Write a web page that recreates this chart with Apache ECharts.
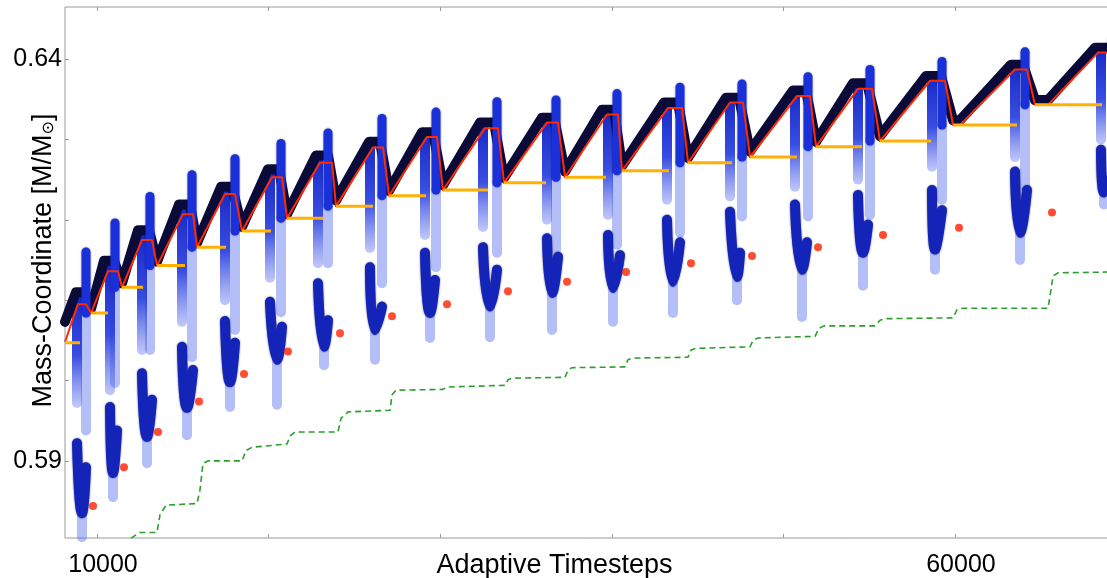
<!DOCTYPE html>
<html><head><meta charset="utf-8">
<script src="https://cdn.jsdelivr.net/npm/echarts@6/dist/echarts.min.js"></script>
<style>html,body{margin:0;padding:0;background:#fff}#c{width:1107px;height:578px}</style>
</head><body><div id="c"></div>
<script>
// ---- axis ticks / labels ----
const xTicks = [10000, 20000, 30000, 40000, 50000, 60000];
const xLabels = [10000, 60000];
const yTicks = [0.59, 0.60, 0.61, 0.62, 0.63, 0.64];
const yLabels = [0.59, 0.64];

// ---- red core-mass line ----
const redX = [8135, 8893, 9359, 9650, 10641, 11224, 11457, 12623, 13205, 13497, 15012, 15595, 15828, 17460, 18043, 18451, 20199, 20782, 21073, 22996, 23696, 23929, 26085, 26668, 27018, 29232, 29815, 30165, 32613, 33370, 33720, 36226, 36867, 37275, 39723, 40364, 40597, 43278, 44094, 44443, 46891, 47649, 48057, 50796, 51554, 51903, 54351, 55167, 55633, 58547, 59421, 59888, 60296, 63501, 64200, 64667, 65424, 68338, 68921];
const redY = [0.6048, 0.6095, 0.6095, 0.6084, 0.6136, 0.6136, 0.6116, 0.6175, 0.6175, 0.6143, 0.6207, 0.6207, 0.6166, 0.6232, 0.6232, 0.6186, 0.6253, 0.6253, 0.6202, 0.6271, 0.6271, 0.6217, 0.6290, 0.6290, 0.6230, 0.6303, 0.6303, 0.6237, 0.6314, 0.6314, 0.6246, 0.6321, 0.6321, 0.6253, 0.6331, 0.6331, 0.6261, 0.6339, 0.6339, 0.6271, 0.6346, 0.6346, 0.6278, 0.6354, 0.6354, 0.6291, 0.6363, 0.6363, 0.6298, 0.6373, 0.6373, 0.6318, 0.6318, 0.6387, 0.6387, 0.6343, 0.6343, 0.6408, 0.6408];

// ---- navy thick envelope ----
const navyX = [8135, 8776, 9301, 9650, 10408, 10991, 11457, 12389, 13031, 13497, 14779, 15420, 15828, 17227, 17868, 18451, 19966, 20607, 21073, 22763, 23463, 23929, 25852, 26493, 27018, 28941, 29582, 30165, 32321, 33137, 33720, 35935, 36634, 37275, 39431, 40131, 40597, 43045, 43861, 44443, 46658, 47416, 48057, 50563, 51321, 51903, 54060, 54876, 55633, 58314, 59188, 59888, 60296, 63268, 63967, 64667, 65424, 68163, 68921];
const navyY = [0.6073, 0.6110, 0.6110, 0.6089, 0.6149, 0.6149, 0.6121, 0.6187, 0.6187, 0.6148, 0.6219, 0.6219, 0.6171, 0.6241, 0.6241, 0.6191, 0.6263, 0.6263, 0.6207, 0.6280, 0.6280, 0.6224, 0.6297, 0.6297, 0.6236, 0.6309, 0.6309, 0.6243, 0.6321, 0.6321, 0.6252, 0.6327, 0.6327, 0.6260, 0.6337, 0.6337, 0.6267, 0.6346, 0.6346, 0.6277, 0.6352, 0.6352, 0.6285, 0.6361, 0.6361, 0.6297, 0.6370, 0.6370, 0.6304, 0.6379, 0.6379, 0.6324, 0.6324, 0.6393, 0.6393, 0.6349, 0.6349, 0.6414, 0.6414];

// ---- orange inter-pulse levels ----
const orangeStartX = [8135, 9650, 11457, 13497, 15828, 18451, 21073, 23929, 27018, 30165, 33720, 37275, 40597, 44443, 48057, 51903, 55633, 59888, 64667];
const orangeEndX = [9009, 10641, 12681, 15129, 17518, 20141, 23171, 26085, 29174, 32787, 36168, 39665, 43336, 47008, 50796, 54584, 58606, 63618, 68571];
const orangeY = [0.6047, 0.6084, 0.6116, 0.6143, 0.6166, 0.6186, 0.6202, 0.6217, 0.6230, 0.6237, 0.6246, 0.6253, 0.6261, 0.6271, 0.6278, 0.6291, 0.6298, 0.6318, 0.6343];

// ---- red dots ----
const dotX = [9767, 11574, 13555, 15945, 18567, 21131, 24162, 27193, 30398, 33953, 37392, 40830, 44618, 48173, 52020, 55808, 60237, 65657];
const dotY = [0.5844, 0.5892, 0.5936, 0.5974, 0.6008, 0.6036, 0.6059, 0.6080, 0.6095, 0.6111, 0.6123, 0.6135, 0.6146, 0.6155, 0.6166, 0.6181, 0.6190, 0.6209];

// ---- green dashed step ----
const greenX = [11982, 12506, 13497, 13672, 14021, 15828, 16003, 16178, 16469, 18451, 18684, 19033, 21073, 21248, 21539, 24045, 24220, 24628, 27076, 27193, 27426, 30165, 30398, 33778, 33953, 34186, 37275, 37450, 37683, 40772, 40947, 41238, 44443, 44618, 44910, 48057, 48232, 48523, 51845, 52078, 52370, 55342, 55633, 55983, 59888, 60121, 60470, 65424, 65599, 65716, 66007, 68921];
const greenY = [0.5804, 0.5811, 0.5811, 0.5833, 0.5845, 0.5847, 0.5864, 0.5897, 0.5900, 0.5900, 0.5913, 0.5917, 0.5921, 0.5931, 0.5936, 0.5936, 0.5953, 0.5961, 0.5963, 0.5982, 0.5988, 0.5989, 0.5992, 0.5994, 0.6001, 0.6003, 0.6004, 0.6013, 0.6016, 0.6017, 0.6026, 0.6028, 0.6029, 0.6038, 0.6040, 0.6042, 0.6050, 0.6053, 0.6055, 0.6065, 0.6068, 0.6068, 0.6075, 0.6077, 0.6078, 0.6088, 0.6090, 0.6090, 0.6113, 0.6130, 0.6134, 0.6135];

// ---- blue pulse streaks (one entry per pulse) ----
const pulseLeftX = [8834, 10758, 12623, 14954, 17460, 20082, 22880, 25910, 29116, 32496, 36226, 39781, 43220, 46891, 50679, 54351, 58664, 63501, 68513];
const pulseTopY = [0.6106, 0.6144, 0.6181, 0.6215, 0.6237, 0.6260, 0.6277, 0.6295, 0.6307, 0.6318, 0.6324, 0.6334, 0.6343, 0.6349, 0.6358, 0.6367, 0.6377, 0.6390, 0.6412];
const pulseGapY = [0.5972, 0.5988, 0.6038, 0.6073, 0.6100, 0.6128, 0.6146, 0.6165, 0.6181, 0.6191, 0.6200, 0.6206, 0.6225, 0.6229, 0.6241, 0.6250, 0.6266, 0.6278, 0.6300];
const hookTopY = [0.5922, 0.5967, 0.6009, 0.6042, 0.6074, 0.6098, 0.6121, 0.6141, 0.6159, 0.6166, 0.6177, 0.6181, 0.6200, 0.6210, 0.6219, 0.6231, 0.6237, 0.6260, 0.6287];
const hookX = [9126, 10932, 12914, 15245, 17751, 20490, 23230, 26202, 29407, 32904, 36517, 40072, 43569, 47299, 51087, 54642, 58839, 63792, 68688];
const hookBottomY = [0.5835, 0.5885, 0.5930, 0.5966, 0.5998, 0.6026, 0.6042, 0.6063, 0.6084, 0.6092, 0.6109, 0.6115, 0.6123, 0.6129, 0.6138, 0.6159, 0.6163, 0.6184, 0.6234];
const hookRightX = [9359, 11166, 13205, 15595, 18043, 20782, 23463, 26610, 29699, 33312, 36867, 40480, 43977, 47474, 51379, 54934, 59247, 64200, 69038];
const hookRightY = [0.5892, 0.5938, 0.5976, 0.6013, 0.6047, 0.6067, 0.6075, 0.6092, 0.6125, 0.6138, 0.6154, 0.6156, 0.6172, 0.6159, 0.6172, 0.6194, 0.6212, 0.6237, 0.6250];
const tailBottomY = [0.5805, 0.5855, 0.5897, 0.5932, 0.5967, 0.5970, 0.6019, 0.6026, 0.6053, 0.6054, 0.6063, 0.6073, 0.6084, 0.6100, 0.6079, 0.6118, 0.6138, 0.6150, 0.6219];
const spikeX = [9359, 11049, 13089, 15537, 18043, 20724, 23463, 26610, 29757, 33312, 36751, 40306, 43977, 47591, 51437, 55050, 59247, 64084, 69154];
const spikeTopY = [0.6160, 0.6196, 0.6229, 0.6256, 0.6276, 0.6295, 0.6308, 0.6326, 0.6334, 0.6347, 0.6349, 0.6357, 0.6365, 0.6369, 0.6378, 0.6387, 0.6397, 0.6409, 0.6424];
const dipY = [0.6084, 0.6116, 0.6143, 0.6166, 0.6186, 0.6202, 0.6217, 0.6230, 0.6237, 0.6246, 0.6253, 0.6261, 0.6271, 0.6278, 0.6291, 0.6298, 0.6318, 0.6343, 0.6399];
const lightBottomY = [0.5938, 0.5997, 0.6038, 0.6029, 0.6063, 0.6085, 0.6146, 0.6121, 0.6141, 0.6159, 0.6163, 0.6169, 0.6184, 0.6204, 0.6204, 0.6206, 0.6225, 0.6241, 0.6399];

const FONT = 'Liberation Sans, Arial, Helvetica, sans-serif';
const zip = (xs, ys) => xs.map((x, i) => [x, ys[i]]);
const seg = (data, style, z, smooth) => ({
  type: 'line', data, symbol: 'none', silent: true, z, smooth: smooth || false,
  lineStyle: Object.assign({ cap: 'round', join: 'round' }, style)
});

const series = [];
const LIGHT = 'rgba(70,95,235,0.4)';
for (let i = 0; i < pulseLeftX.length; i++) {
  series.push(seg([[spikeX[i], dipY[i]], [spikeX[i], lightBottomY[i]]], { width: 10, color: LIGHT }, 2));
  series.push(seg([[hookX[i], hookBottomY[i]], [hookX[i], tailBottomY[i]]], { width: 10, color: LIGHT }, 2));
  series.push(seg([[pulseLeftX[i], pulseTopY[i]], [pulseLeftX[i], pulseGapY[i]]], {
    width: 10,
    color: new echarts.graphic.LinearGradient(0, 0, 0, 1, [
      { offset: 0, color: '#1526c4' }, { offset: 0.55, color: 'rgba(35,58,222,0.9)' }, { offset: 1, color: 'rgba(80,100,235,0.35)' }
    ])
  }, 3));
  series.push(seg([[pulseLeftX[i], hookTopY[i]], [hookX[i], hookBottomY[i]], [hookRightX[i], hookRightY[i]]],
    { width: 10, color: '#1424b8', shadowColor: 'rgba(0,0,60,0.6)', shadowBlur: 2 }, 4, 0.6));
  series.push(seg([[spikeX[i], spikeTopY[i]], [spikeX[i], dipY[i]]], { width: 9, color: '#1a30d8', shadowColor: 'rgba(0,0,60,0.5)', shadowBlur: 2 }, 6));
}
series.push(seg(zip(navyX, navyY), { width: 10, color: '#0b0b3a' }, 5));
series.push(seg(zip(redX, redY), { width: 2, color: '#ff2a00', cap: 'butt' }, 8));
for (let i = 0; i < orangeStartX.length; i++) {
  series.push(seg([[orangeStartX[i], orangeY[i]], [orangeEndX[i], orangeY[i]]], { width: 3, color: '#ffb000', cap: 'butt' }, 9));
}
series.push(seg(zip(greenX, greenY), { width: 1.6, color: '#2aa02a', type: [6, 4], cap: 'butt' }, 9));
series.push({ type: 'scatter', data: zip(dotX, dotY), symbol: 'circle', symbolSize: 8, itemStyle: { color: '#ff2000' }, z: 10, silent: true });

const tickStyle = { color: '#9a9a9a', width: 1 };
const xBase = { type: 'value', min: 8135, max: 68921, splitLine: { show: false }, axisLine: { show: false } };
const yBase = { type: 'value', min: 0.58041, max: 0.646476, splitLine: { show: false }, axisLine: { show: false } };

const chart = echarts.init(document.getElementById('c'), null, { renderer: 'canvas' });
chart.setOption({
  animation: false,
  backgroundColor: '#fff',
  grid: { left: 65, top: 7, right: -1, bottom: 40, show: true, borderColor: '#9a9a9a', borderWidth: 1, containLabel: false, outerBoundsMode: 'none' },
  xAxis: [
    Object.assign({}, xBase, {
      position: 'bottom',
      axisTick: { show: true, inside: true, length: 4, customValues: xTicks, lineStyle: tickStyle },
      axisLabel: { customValues: xLabels, fontSize: 25, color: '#000', margin: 15, fontFamily: FONT, formatter: v => String(v), padding: [0, 0, 0, 12] },
      name: 'Adaptive Timesteps', nameLocation: 'middle', nameGap: 14, nameMoveOverlap: false,
      nameTextStyle: { fontSize: 27, color: '#000', fontFamily: FONT, padding: [0, 64, 0, 0], verticalAlign: 'top' }
    }),
    Object.assign({}, xBase, {
      position: 'top',
      axisTick: { show: true, inside: true, length: 4, customValues: xTicks, lineStyle: tickStyle },
      axisLabel: { show: false }
    })
  ],
  yAxis: [
    Object.assign({}, yBase, {
      position: 'left',
      axisTick: { show: true, inside: true, length: 4, customValues: yTicks, lineStyle: tickStyle },
      axisLabel: { customValues: yLabels, fontSize: 25, color: '#000', margin: 3, fontFamily: FONT, formatter: v => v.toFixed(2) },
      name: 'Mass-Coordinate [M/M{sub|⊙}]', nameLocation: 'middle', nameGap: 8, nameRotate: 90, nameMoveOverlap: false,
      nameTextStyle: {
        fontSize: 27, color: '#000', fontFamily: FONT, padding: [0, 0, 0, 24], verticalAlign: 'bottom',
        rich: { sub: { fontSize: 16, color: '#000', fontFamily: 'DejaVu Sans, sans-serif', verticalAlign: 'bottom' } }
      }
    })
  ],
  series
});
</script></body></html>
